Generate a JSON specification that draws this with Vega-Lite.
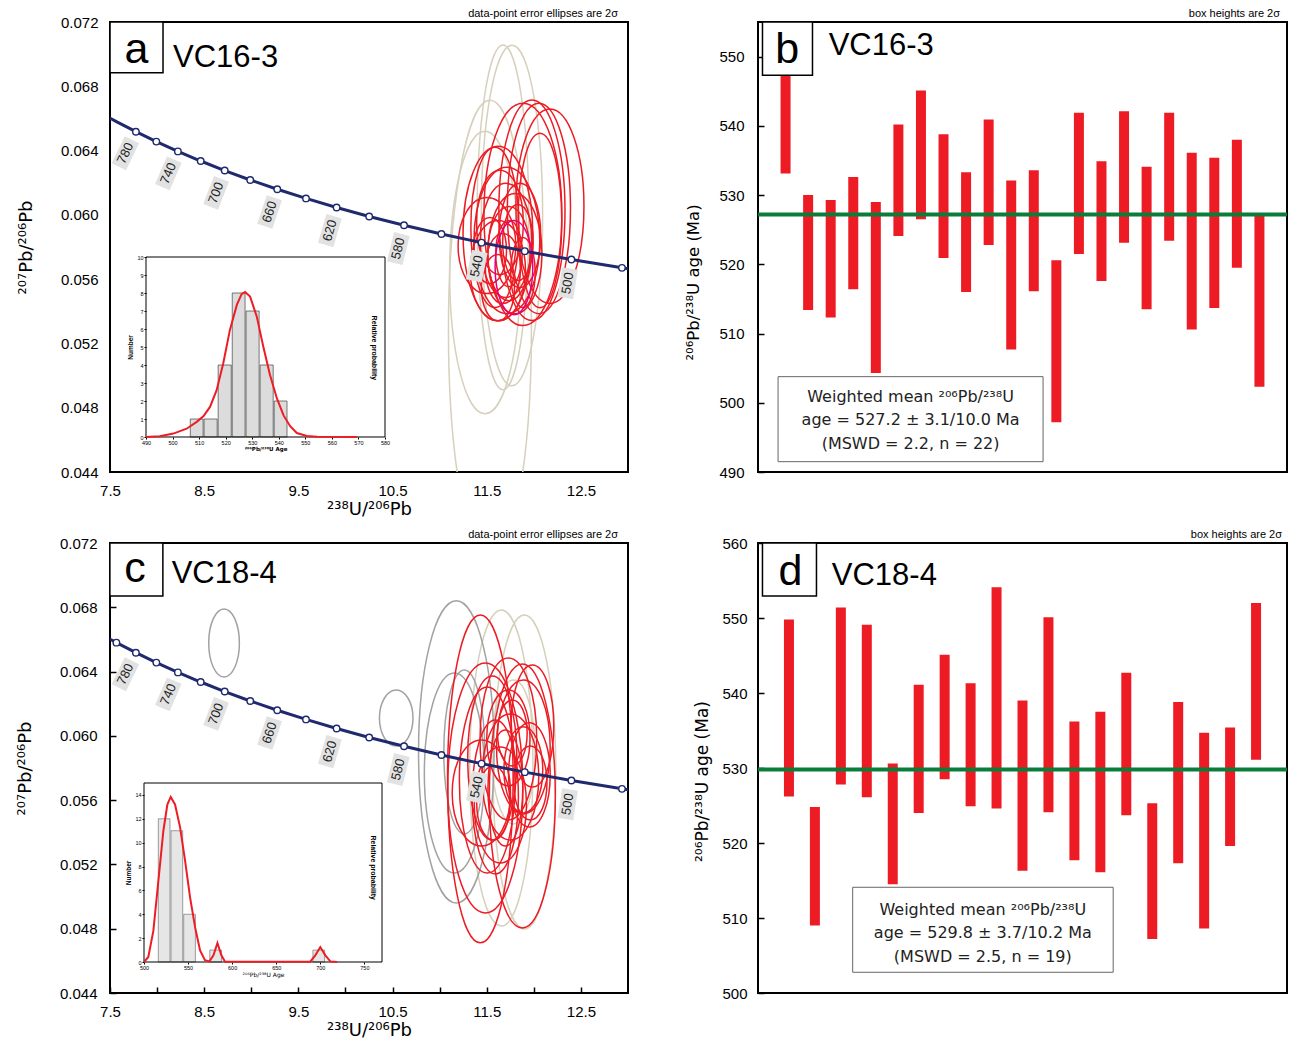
{
"$schema": "https://vega.github.io/schema/vega-lite/v6.json",
"padding": {"left": 15, "top": 7, "right": 5, "bottom": 0},
"bounds": "flush",
"columns": 2,
"spacing": {"row": 71, "column": 130},
"config": {
  "font": "Liberation Sans",
  "view": {"stroke": "black", "strokeWidth": 2},
  "axis": {"grid": false, "domain": false, "labelColor": "#000", "titleColor": "#000", "titleFontWeight": "normal", "tickColor": "#000", "labelFont": "Liberation Sans", "titleFont": "DejaVu Sans", "labelFlush": false, "labelOverlap": false},
  "title": {"font": "Liberation Sans", "fontWeight": "normal", "fontSize": 11, "anchor": "end", "frame": "group", "offset": -4, "color": "#000"},
  "text": {"font": "Liberation Sans", "color": "#000"}
},
"datasets": {
  "concordia": [
    {"age": 460, "u": 13.520, "pb": 0.056193},
    {"age": 480, "u": 12.936, "pb": 0.056703},
    {"age": 500, "u": 12.399, "pb": 0.057219},
    {"age": 520, "u": 11.904, "pb": 0.057742},
    {"age": 540, "u": 11.445, "pb": 0.058272},
    {"age": 560, "u": 11.019, "pb": 0.058809},
    {"age": 580, "u": 10.622, "pb": 0.059351},
    {"age": 600, "u": 10.252, "pb": 0.059901},
    {"age": 620, "u": 9.906, "pb": 0.060458},
    {"age": 640, "u": 9.581, "pb": 0.061022},
    {"age": 660, "u": 9.276, "pb": 0.061593},
    {"age": 680, "u": 8.989, "pb": 0.062171},
    {"age": 700, "u": 8.718, "pb": 0.062757},
    {"age": 720, "u": 8.463, "pb": 0.063350},
    {"age": 740, "u": 8.221, "pb": 0.063950},
    {"age": 760, "u": 7.992, "pb": 0.064559},
    {"age": 780, "u": 7.775, "pb": 0.065175},
    {"age": 800, "u": 7.568, "pb": 0.065800},
    {"age": 820, "u": 7.372, "pb": 0.066432}
  ],
  "ellA": [
    {"x": 11.672, "y": 0.05984, "sy": 0.01073, "form": "0.15", "kind": "rejected"},
    {"x": 11.768, "y": 0.05996, "sy": 0.0106, "form": "0.18", "kind": "rejected"},
    {"x": 11.534, "y": 0.05279, "sy": 0.01434, "form": "0.18", "kind": "rejected"},
    {"x": 11.481, "y": 0.05641, "sy": 0.00879, "form": "0.25", "kind": "rejected"},
    {"x": 12.171, "y": 0.06053, "sy": 0.00605, "form": "0.35", "kind": "concordant"},
    {"x": 12.054, "y": 0.0604, "sy": 0.00655, "form": "0.3", "kind": "concordant"},
    {"x": 11.98, "y": 0.06028, "sy": 0.00686, "form": "0.3", "kind": "concordant"},
    {"x": 11.884, "y": 0.06003, "sy": 0.00692, "form": "0.35", "kind": "concordant"},
    {"x": 12.065, "y": 0.05965, "sy": 0.00543, "form": "0.25", "kind": "concordant"},
    {"x": 11.587, "y": 0.05922, "sy": 0.00499, "form": "0.3", "kind": "concordant"},
    {"x": 11.502, "y": 0.05809, "sy": 0.00299, "form": "0.6", "kind": "concordant"},
    {"x": 11.714, "y": 0.05841, "sy": 0.00455, "form": "0.45", "kind": "concordant"},
    {"x": 11.704, "y": 0.05841, "sy": 0.00355, "form": "0.45", "kind": "concordant"},
    {"x": 11.799, "y": 0.05759, "sy": 0.00374, "form": "0.45", "kind": "concordant"},
    {"x": 11.619, "y": 0.05653, "sy": 0.00312, "form": "0.55", "kind": "concordant"},
    {"x": 11.736, "y": 0.05759, "sy": 0.00293, "form": "0.45", "kind": "concordant"},
    {"x": 11.736, "y": 0.05759, "sy": 0.00206, "form": "0.4", "kind": "concordant"},
    {"x": 11.64, "y": 0.05953, "sy": 0.00324, "form": "0.45", "kind": "concordant"},
    {"x": 11.852, "y": 0.05872, "sy": 0.00324, "form": "0.4", "kind": "concordant"},
    {"x": 11.672, "y": 0.05666, "sy": 0.00218, "form": "0.5", "kind": "concordant"},
    {"x": 11.831, "y": 0.05828, "sy": 0.00237, "form": "0.4", "kind": "concordant"},
    {"x": 11.619, "y": 0.05547, "sy": 0.00206, "form": "0.5", "kind": "concordant"},
    {"x": 11.884, "y": 0.05641, "sy": 0.00218, "form": "0.35", "kind": "concordant"},
    {"x": 11.534, "y": 0.05778, "sy": 0.00206, "form": "0.5", "kind": "concordant"},
    {"x": 11.619, "y": 0.05884, "sy": 0.00543, "form": "0.4", "kind": "concordant"},
    {"x": 11.789, "y": 0.05672, "sy": 0.00293, "form": "0.4", "kind": "highlight"}
  ],
  "ellC": [
    {"x": 11.655, "y": 0.058, "sy": 0.00983, "form": "0.2", "kind": "rejected"},
    {"x": 11.9, "y": 0.05775, "sy": 0.00977, "form": "0.2", "kind": "rejected"},
    {"x": 11.783, "y": 0.059, "sy": 0.00448, "form": "0.3", "kind": "rejected"},
    {"x": 8.711, "y": 0.06578, "sy": 0.00212, "form": "0.45", "kind": "inherited"},
    {"x": 10.539, "y": 0.06111, "sy": 0.00174, "form": "0.6", "kind": "inherited"},
    {"x": 11.177, "y": 0.059, "sy": 0.0094, "form": "0.25", "kind": "inherited"},
    {"x": 11.156, "y": 0.05769, "sy": 0.00622, "form": "0.3", "kind": "inherited"},
    {"x": 11.262, "y": 0.059, "sy": 0.0051, "form": "0.25", "kind": "inherited"},
    {"x": 11.432, "y": 0.05732, "sy": 0.0102, "form": "0.2", "kind": "concordant"},
    {"x": 11.485, "y": 0.05676, "sy": 0.00778, "form": "0.3", "kind": "concordant"},
    {"x": 11.878, "y": 0.05626, "sy": 0.00821, "form": "0.25", "kind": "concordant"},
    {"x": 11.506, "y": 0.05725, "sy": 0.00579, "form": "0.3", "kind": "concordant"},
    {"x": 11.559, "y": 0.05862, "sy": 0.0051, "form": "0.3", "kind": "concordant"},
    {"x": 11.73, "y": 0.05981, "sy": 0.00504, "form": "0.35", "kind": "concordant"},
    {"x": 11.889, "y": 0.05931, "sy": 0.00417, "form": "0.4", "kind": "concordant"},
    {"x": 11.985, "y": 0.06061, "sy": 0.0038, "form": "0.35", "kind": "concordant"},
    {"x": 11.591, "y": 0.0562, "sy": 0.00479, "form": "0.3", "kind": "concordant"},
    {"x": 11.751, "y": 0.05744, "sy": 0.00392, "form": "0.45", "kind": "concordant"},
    {"x": 11.645, "y": 0.0557, "sy": 0.00361, "form": "0.45", "kind": "concordant"},
    {"x": 11.889, "y": 0.05788, "sy": 0.00268, "form": "0.45", "kind": "concordant"},
    {"x": 11.73, "y": 0.05987, "sy": 0.00299, "form": "0.45", "kind": "concordant"},
    {"x": 11.953, "y": 0.05757, "sy": 0.00324, "form": "0.4", "kind": "concordant"},
    {"x": 11.698, "y": 0.05676, "sy": 0.00361, "form": "0.3", "kind": "concordant"},
    {"x": 11.443, "y": 0.05645, "sy": 0.0033, "form": "0.55", "kind": "concordant"},
    {"x": 11.57, "y": 0.05582, "sy": 0.0023, "form": "0.45", "kind": "concordant"},
    {"x": 11.963, "y": 0.05707, "sy": 0.0023, "form": "0.45", "kind": "concordant"},
    {"x": 11.772, "y": 0.06018, "sy": 0.00205, "form": "0.45", "kind": "concordant"}
  ],
  "histA": [
    {"b0": 506.3, "b1": 511.5, "n": 1},
    {"b0": 511.5, "b1": 516.8, "n": 1},
    {"b0": 516.8, "b1": 522.1, "n": 4},
    {"b0": 522.1, "b1": 527.3, "n": 8},
    {"b0": 527.3, "b1": 532.6, "n": 7},
    {"b0": 532.6, "b1": 537.9, "n": 4},
    {"b0": 537.9, "b1": 543.1, "n": 2}
  ],
  "pdfA": [
    {"age": 490, "p": 0}, {"age": 495.2, "p": 0.04}, {"age": 500.3, "p": 0.19}, {"age": 505.3, "p": 0.46},
    {"age": 509.1, "p": 0.84}, {"age": 511.6, "p": 1.15}, {"age": 514.1, "p": 1.67}, {"age": 516.6, "p": 2.6},
    {"age": 519.1, "p": 4.1}, {"age": 521.6, "p": 5.95}, {"age": 524.2, "p": 7.34}, {"age": 526.0, "p": 7.94},
    {"age": 527.3, "p": 8.05}, {"age": 529.2, "p": 7.8}, {"age": 531.7, "p": 6.7}, {"age": 534.2, "p": 5.0},
    {"age": 536.7, "p": 3.44}, {"age": 539.3, "p": 2.14}, {"age": 541.8, "p": 1.2}, {"age": 544.3, "p": 0.6},
    {"age": 546.8, "p": 0.22}, {"age": 550.6, "p": 0.06}, {"age": 554.4, "p": 0.01}, {"age": 569.4, "p": 0}
  ],
  "histC": [
    {"b0": 515.1, "b1": 529.5, "n": 12},
    {"b0": 529.5, "b1": 543.9, "n": 11},
    {"b0": 543.9, "b1": 558.3, "n": 4},
    {"b0": 573.5, "b1": 587.9, "n": 1},
    {"b0": 690.5, "b1": 704.9, "n": 1}
  ],
  "pdfC": [
    {"age": 500, "p": 0}, {"age": 504.9, "p": 0.42}, {"age": 510.6, "p": 2.6}, {"age": 516.3, "p": 6.8},
    {"age": 522, "p": 11.0}, {"age": 526.5, "p": 13.2}, {"age": 530.3, "p": 13.83}, {"age": 535.2, "p": 13.2},
    {"age": 540.9, "p": 11.3}, {"age": 546.6, "p": 8.5}, {"age": 552.3, "p": 5.4}, {"age": 558, "p": 2.9},
    {"age": 563.6, "p": 0.97}, {"age": 569.3, "p": 0.14}, {"age": 574.2, "p": 0.05}, {"age": 578.8, "p": 0.56},
    {"age": 583.3, "p": 1.59}, {"age": 587.8, "p": 0.56}, {"age": 592, "p": 0.03}, {"age": 688.6, "p": 0.03},
    {"age": 694.3, "p": 0.56}, {"age": 700, "p": 1.25}, {"age": 705.7, "p": 0.56}, {"age": 711.4, "p": 0.05},
    {"age": 719, "p": 0}
  ],
  "barsB": [
    {"i": 1, "lo": 533.1, "hi": 557}, {"i": 2, "lo": 513.4, "hi": 530.0}, {"i": 3, "lo": 512.3, "hi": 529.3},
    {"i": 4, "lo": 516.4, "hi": 532.6}, {"i": 5, "lo": 504.3, "hi": 529.0}, {"i": 6, "lo": 524.1, "hi": 540.2},
    {"i": 7, "lo": 526.5, "hi": 545.1}, {"i": 8, "lo": 520.9, "hi": 538.8}, {"i": 9, "lo": 516.0, "hi": 533.3},
    {"i": 10, "lo": 522.8, "hi": 540.9}, {"i": 11, "lo": 507.7, "hi": 532.1}, {"i": 12, "lo": 516.1, "hi": 533.6},
    {"i": 13, "lo": 497.2, "hi": 520.6}, {"i": 14, "lo": 521.5, "hi": 541.9}, {"i": 15, "lo": 517.6, "hi": 534.9},
    {"i": 16, "lo": 523.1, "hi": 542.1}, {"i": 17, "lo": 513.5, "hi": 534.1}, {"i": 18, "lo": 523.4, "hi": 541.9},
    {"i": 19, "lo": 510.6, "hi": 536.1}, {"i": 20, "lo": 513.7, "hi": 535.4}, {"i": 21, "lo": 519.5, "hi": 538.0},
    {"i": 22, "lo": 502.3, "hi": 527.0}
  ],
  "barsD": [
    {"i": 1, "lo": 526.2, "hi": 549.8}, {"i": 2, "lo": 509.0, "hi": 524.8}, {"i": 3, "lo": 527.8, "hi": 551.4},
    {"i": 4, "lo": 526.1, "hi": 549.1}, {"i": 5, "lo": 514.5, "hi": 530.6}, {"i": 6, "lo": 524.0, "hi": 541.1},
    {"i": 7, "lo": 528.5, "hi": 545.1}, {"i": 8, "lo": 524.9, "hi": 541.3}, {"i": 9, "lo": 524.6, "hi": 554.1},
    {"i": 10, "lo": 516.3, "hi": 539.0}, {"i": 11, "lo": 524.1, "hi": 550.1}, {"i": 12, "lo": 517.7, "hi": 536.2},
    {"i": 13, "lo": 516.1, "hi": 537.5}, {"i": 14, "lo": 523.7, "hi": 542.7}, {"i": 15, "lo": 507.2, "hi": 525.3},
    {"i": 16, "lo": 517.3, "hi": 538.8}, {"i": 17, "lo": 508.6, "hi": 534.7}, {"i": 18, "lo": 519.6, "hi": 535.4},
    {"i": 19, "lo": 531.1, "hi": 552.0}
  ]
},
"concat": [
  {
    "width": 518, "height": 450,
    "title": {"text": "data-point error ellipses are 2σ", "dx": -10},
    "layer": [
      {
        "layer": [
          {
            "data": {"name": "ellA"},
            "mark": {"type": "point", "filled": false, "strokeWidth": 1.5, "opacity": 1, "clip": true},
            "encoding": {
              "x": {"field": "x", "type": "quantitative", "scale": {"domain": [7.5, 13], "nice": false, "zero": false},
                    "axis": {"values": [7.5, 8.5, 9.5, 10.5, 11.5, 12.5], "format": ".1f", "ticks": false, "labelFontSize": 15, "labelPadding": 11, "title": "²³⁸U/²⁰⁶Pb", "titleFontSize": 18, "titlePadding": 2}},
              "y": {"field": "y", "type": "quantitative", "scale": {"domain": [0.044, 0.072], "nice": false, "zero": false},
                    "axis": {"values": [0.044, 0.048, 0.052, 0.056, 0.06, 0.064, 0.068, 0.072], "format": ".3f", "ticks": false, "labelFontSize": 15, "labelPadding": 12, "title": "²⁰⁷Pb/²⁰⁶Pb", "titleFontSize": 18, "titlePadding": 25}},
              "size": {"field": "sy", "type": "quantitative", "scale": {"type": "pow", "exponent": 2, "domain": [0, 0.02], "range": [0, 413243]}, "legend": null},
              "shape": {"field": "form", "type": "nominal", "legend": null, "scale": {
                "domain": ["0.15", "0.18", "0.2", "0.25", "0.3", "0.35", "0.4", "0.45", "0.5", "0.55", "0.6"],
                "range": [
                  "M0,-1C0.0828,-1,0.15,-0.5523,0.15,0C0.15,0.5523,0.0828,1,0,1C-0.0828,1,-0.15,0.5523,-0.15,0C-0.15,-0.5523,-0.0828,-1,0,-1Z",
                  "M0,-1C0.0994,-1,0.18,-0.5523,0.18,0C0.18,0.5523,0.0994,1,0,1C-0.0994,1,-0.18,0.5523,-0.18,0C-0.18,-0.5523,-0.0994,-1,0,-1Z",
                  "M0,-1C0.1105,-1,0.2,-0.5523,0.2,0C0.2,0.5523,0.1105,1,0,1C-0.1105,1,-0.2,0.5523,-0.2,0C-0.2,-0.5523,-0.1105,-1,0,-1Z",
                  "M0,-1C0.1381,-1,0.25,-0.5523,0.25,0C0.25,0.5523,0.1381,1,0,1C-0.1381,1,-0.25,0.5523,-0.25,0C-0.25,-0.5523,-0.1381,-1,0,-1Z",
                  "M0,-1C0.1657,-1,0.3,-0.5523,0.3,0C0.3,0.5523,0.1657,1,0,1C-0.1657,1,-0.3,0.5523,-0.3,0C-0.3,-0.5523,-0.1657,-1,0,-1Z",
                  "M0,-1C0.1933,-1,0.35,-0.5523,0.35,0C0.35,0.5523,0.1933,1,0,1C-0.1933,1,-0.35,0.5523,-0.35,0C-0.35,-0.5523,-0.1933,-1,0,-1Z",
                  "M0,-1C0.2209,-1,0.4,-0.5523,0.4,0C0.4,0.5523,0.2209,1,0,1C-0.2209,1,-0.4,0.5523,-0.4,0C-0.4,-0.5523,-0.2209,-1,0,-1Z",
                  "M0,-1C0.2485,-1,0.45,-0.5523,0.45,0C0.45,0.5523,0.2485,1,0,1C-0.2485,1,-0.45,0.5523,-0.45,0C-0.45,-0.5523,-0.2485,-1,0,-1Z",
                  "M0,-1C0.2762,-1,0.5,-0.5523,0.5,0C0.5,0.5523,0.2762,1,0,1C-0.2762,1,-0.5,0.5523,-0.5,0C-0.5,-0.5523,-0.2762,-1,0,-1Z",
                  "M0,-1C0.3038,-1,0.55,-0.5523,0.55,0C0.55,0.5523,0.3038,1,0,1C-0.3038,1,-0.55,0.5523,-0.55,0C-0.55,-0.5523,-0.3038,-1,0,-1Z",
                  "M0,-1C0.3314,-1,0.6,-0.5523,0.6,0C0.6,0.5523,0.3314,1,0,1C-0.3314,1,-0.6,0.5523,-0.6,0C-0.6,-0.5523,-0.3314,-1,0,-1Z"
                ]}},
              "stroke": {"field": "kind", "type": "nominal", "legend": null, "scale": {"domain": ["concordant", "rejected", "inherited", "highlight"], "range": ["#ed1c24", "#d6d0bd", "#a2a2a2", "#e4007c"]}}
            }
          },
          {
            "data": {"name": "concordia"},
            "mark": {"type": "line", "color": "#1f2a6e", "strokeWidth": 3, "clip": true},
            "encoding": {"x": {"field": "u", "type": "quantitative"}, "y": {"field": "pb", "type": "quantitative"}, "order": {"field": "age", "type": "quantitative"}}
          },
          {
            "data": {"name": "concordia"},
            "transform": [{"filter": "datum.age >= 480 && datum.age <= 780"}],
            "mark": {"type": "point", "filled": true, "fill": "white", "stroke": "#1f2a6e", "strokeWidth": 1.4, "size": 42, "opacity": 1},
            "encoding": {"x": {"field": "u", "type": "quantitative"}, "y": {"field": "pb", "type": "quantitative"}}
          },
          {
            "data": {"name": "concordia"},
            "transform": [{"filter": "datum.age >= 500 && datum.age <= 780 && datum.age % 40 == 20"}],
            "mark": {"type": "point", "filled": true, "fill": "#e2e2e2", "strokeWidth": 0, "size": 10000, "opacity": 1, "shape": "M-0.78,-0.16L-0.18,-0.16L-0.18,0.16L-0.78,0.16Z"},
            "encoding": {"x": {"field": "u", "type": "quantitative"}, "y": {"field": "pb", "type": "quantitative"},
                         "angle": {"field": "age", "type": "quantitative", "scale": {"domain": [500, 780], "range": [-81, -64]}}}
          },
          {
            "data": {"name": "concordia"},
            "transform": [{"filter": "datum.age >= 500 && datum.age <= 780 && datum.age % 40 == 20"}],
            "mark": {"type": "text", "fontSize": 13, "dx": -24, "align": "center", "baseline": "middle", "color": "#222"},
            "encoding": {"x": {"field": "u", "type": "quantitative"}, "y": {"field": "pb", "type": "quantitative"},
                         "angle": {"field": "age", "type": "quantitative", "scale": {"domain": [500, 780], "range": [-81, -64]}},
                         "text": {"field": "age", "type": "quantitative", "format": "d"}}
          },
          {
            "data": {"values": [{}]},
            "mark": {"type": "point", "filled": true, "fill": "white", "stroke": "black", "strokeWidth": 1.5, "opacity": 1, "size": 2809, "shape": "M-1,-0.9566L1,-0.9566L1,0.9566L-1,0.9566Z"},
            "encoding": {"x": {"datum": 7.7815}, "y": {"datum": 0.070425}}
          },
          {
            "data": {"values": [{}]},
            "mark": {"type": "text", "text": "a", "fontSize": 43, "align": "center", "baseline": "alphabetic"},
            "encoding": {"x": {"datum": 7.781}, "y": {"datum": 0.06945}}
          },
          {
            "data": {"values": [{}]},
            "mark": {"type": "text", "text": "VC16-3", "fontSize": 31, "align": "left", "baseline": "alphabetic"},
            "encoding": {"x": {"datum": 8.169}, "y": {"datum": 0.06922}}
          }
        ]
      },
      {
        "layer": [
          {
            "data": {"name": "histA"},
            "mark": {"type": "bar", "fill": "#dcdcdc", "stroke": "#444", "strokeWidth": 0.7},
            "encoding": {
              "x": {"field": "b0", "bin": "binned", "type": "quantitative", "scale": {"domain": [490, 580], "range": [36, 275], "nice": false, "zero": false},
                    "axis": {"orient": "bottom", "offset": -35, "values": [490, 500, 510, 520, 530, 540, 550, 560, 570, 580], "labelOverlap": false, "labelFontSize": 5.5, "tickSize": 2, "labelPadding": 1, "title": "²⁰⁶Pb/²³⁸U Age", "titleFontSize": 5.5, "titleFontWeight": "bold", "titlePadding": 1}},
              "x2": {"field": "b1"},
              "y": {"field": "n", "type": "quantitative", "scale": {"domain": [0, 10], "range": [415, 235], "nice": false, "zero": false},
                    "axis": {"orient": "left", "offset": -36, "values": [0, 1, 2, 3, 4, 5, 6, 7, 8, 9, 10], "labelFontSize": 5.5, "tickSize": 2, "labelPadding": 1, "title": "Number", "titleFont": "Liberation Sans", "titleFontSize": 6.5, "titleFontWeight": "bold", "titlePadding": 3}}
            }
          },
          {
            "data": {"values": [{}]},
            "mark": {"type": "point", "filled": false, "fill": null, "stroke": "black", "strokeWidth": 1, "opacity": 1, "size": 57121, "shape": "M-1,-0.7531L1,-0.7531L1,0.7531L-1,0.7531Z"},
            "encoding": {"x": {"datum": 535}, "y": {"datum": 5}}
          },
          {
            "data": {"name": "pdfA"},
            "mark": {"type": "line", "color": "#ee1c25", "strokeWidth": 2},
            "encoding": {"x": {"field": "age", "type": "quantitative"}, "y": {"field": "p", "type": "quantitative"}}
          },
          {
            "data": {"values": [{}]},
            "mark": {"type": "text", "text": "Relative probability", "angle": 90, "fontSize": 7, "fontWeight": "bold", "align": "center", "baseline": "middle"},
            "encoding": {"x": {"datum": 576}, "y": {"datum": 4.95}}
          }
        ]
      }
    ],
    "resolve": {"scale": {"x": "independent", "y": "independent"}}
  },
  {
    "width": 529, "height": 450,
    "title": {"text": "box heights are 2σ", "dx": -7, "offset": 0},
    "layer": [
      {
        "data": {"name": "barsB"},
        "mark": {"type": "bar", "color": "#ed1c24", "size": 10, "clip": true},
        "encoding": {
          "x": {"field": "i", "type": "quantitative", "scale": {"domain": [0, 23], "nice": false, "zero": false}, "axis": null},
          "y": {"field": "lo", "type": "quantitative", "scale": {"domain": [490, 555], "nice": false, "zero": false},
                "axis": {"values": [490, 495, 500, 505, 510, 515, 520, 525, 530, 535, 540, 545, 550, 555], "labelExpr": "datum.value % 10 == 0 ? datum.label : ''", "tickSize": -6, "tickWidth": 1.5, "labelFontSize": 15, "labelPadding": 20, "title": "²⁰⁶Pb/²³⁸U age (Ma)", "titleFontSize": 16.5, "titlePadding": 17, "titleY": 260}},
          "y2": {"field": "hi"}
        }
      },
      {
        "data": {"values": [{}]},
        "mark": {"type": "rule", "color": "#0b7d3b", "strokeWidth": 4},
        "encoding": {"y": {"datum": 527.2}}
      },
      {
        "data": {"values": [{}]},
        "mark": {"type": "point", "filled": true, "fill": "white", "stroke": "#666", "strokeWidth": 1, "opacity": 1, "size": 70225, "shape": "M-1,-0.3208L1,-0.3208L1,0.3208L-1,0.3208Z"},
        "encoding": {"x": {"datum": 6.54}, "y": {"datum": 497.63}}
      },
      {
        "data": {"values": [{}]},
        "mark": {"type": "text", "text": ["Weighted mean ²⁰⁶Pb/²³⁸U", "age = 527.2 ± 3.1/10.0 Ma", "(MSWD = 2.2, n = 22)"], "font": "DejaVu Sans", "fontSize": 16, "lineHeight": 23.5, "align": "center", "baseline": "alphabetic", "color": "#222"},
        "encoding": {"x": {"datum": 6.54}, "y": {"datum": 500.15}}
      },
      {
        "data": {"values": [{}]},
        "mark": {"type": "point", "filled": true, "fill": "white", "stroke": "black", "strokeWidth": 1.5, "opacity": 1, "size": 2841, "shape": "M-0.938,-1L0.938,-1L0.938,1L-0.938,1Z"},
        "encoding": {"x": {"datum": 1.085}, "y": {"datum": 551.15}}
      },
      {
        "data": {"values": [{}]},
        "mark": {"type": "text", "text": "b", "fontSize": 43, "align": "center", "baseline": "alphabetic"},
        "encoding": {"x": {"datum": 1.07}, "y": {"datum": 549.03}}
      },
      {
        "data": {"values": [{}]},
        "mark": {"type": "text", "text": "VC16-3", "fontSize": 31, "align": "left", "baseline": "alphabetic"},
        "encoding": {"x": {"datum": 2.91}, "y": {"datum": 550.23}}
      }
    ]
  },
  {
    "width": 518, "height": 450,
    "title": {"text": "data-point error ellipses are 2σ", "dx": -10},
    "layer": [
      {
        "layer": [
          {
            "data": {"name": "ellC"},
            "mark": {"type": "point", "filled": false, "strokeWidth": 1.5, "opacity": 1, "clip": true},
            "encoding": {
              "x": {"field": "x", "type": "quantitative", "scale": {"domain": [7.5, 13], "nice": false, "zero": false},
                    "axis": {"values": [7.5, 8, 8.5, 9, 9.5, 10, 10.5, 11, 11.5, 12, 12.5], "labelExpr": "(datum.value * 2) % 2 == 1 ? format(datum.value, '.1f') : ''", "tickSize": -6, "tickWidth": 1.5, "labelFontSize": 15, "labelPadding": 17, "title": "²³⁸U/²⁰⁶Pb", "titleFontSize": 18, "titlePadding": 2}},
              "y": {"field": "y", "type": "quantitative", "scale": {"domain": [0.044, 0.072], "nice": false, "zero": false},
                    "axis": {"values": [0.044, 0.046, 0.048, 0.05, 0.052, 0.054, 0.056, 0.058, 0.06, 0.062, 0.064, 0.066, 0.068, 0.07, 0.072], "labelExpr": "round(datum.value * 1000) % 4 == 0 ? format(datum.value, '.3f') : ''", "tickSize": -6, "tickWidth": 1.5, "labelFontSize": 15, "labelPadding": 19, "title": "²⁰⁷Pb/²⁰⁶Pb", "titleFontSize": 18, "titlePadding": 25}},
              "size": {"field": "sy", "type": "quantitative", "scale": {"type": "pow", "exponent": 2, "domain": [0, 0.02], "range": [0, 413243]}, "legend": null},
              "shape": {"field": "form", "type": "nominal", "legend": null, "scale": {
                "domain": ["0.15", "0.18", "0.2", "0.25", "0.3", "0.35", "0.4", "0.45", "0.5", "0.55", "0.6"],
                "range": [
                  "M0,-1C0.0828,-1,0.15,-0.5523,0.15,0C0.15,0.5523,0.0828,1,0,1C-0.0828,1,-0.15,0.5523,-0.15,0C-0.15,-0.5523,-0.0828,-1,0,-1Z",
                  "M0,-1C0.0994,-1,0.18,-0.5523,0.18,0C0.18,0.5523,0.0994,1,0,1C-0.0994,1,-0.18,0.5523,-0.18,0C-0.18,-0.5523,-0.0994,-1,0,-1Z",
                  "M0,-1C0.1105,-1,0.2,-0.5523,0.2,0C0.2,0.5523,0.1105,1,0,1C-0.1105,1,-0.2,0.5523,-0.2,0C-0.2,-0.5523,-0.1105,-1,0,-1Z",
                  "M0,-1C0.1381,-1,0.25,-0.5523,0.25,0C0.25,0.5523,0.1381,1,0,1C-0.1381,1,-0.25,0.5523,-0.25,0C-0.25,-0.5523,-0.1381,-1,0,-1Z",
                  "M0,-1C0.1657,-1,0.3,-0.5523,0.3,0C0.3,0.5523,0.1657,1,0,1C-0.1657,1,-0.3,0.5523,-0.3,0C-0.3,-0.5523,-0.1657,-1,0,-1Z",
                  "M0,-1C0.1933,-1,0.35,-0.5523,0.35,0C0.35,0.5523,0.1933,1,0,1C-0.1933,1,-0.35,0.5523,-0.35,0C-0.35,-0.5523,-0.1933,-1,0,-1Z",
                  "M0,-1C0.2209,-1,0.4,-0.5523,0.4,0C0.4,0.5523,0.2209,1,0,1C-0.2209,1,-0.4,0.5523,-0.4,0C-0.4,-0.5523,-0.2209,-1,0,-1Z",
                  "M0,-1C0.2485,-1,0.45,-0.5523,0.45,0C0.45,0.5523,0.2485,1,0,1C-0.2485,1,-0.45,0.5523,-0.45,0C-0.45,-0.5523,-0.2485,-1,0,-1Z",
                  "M0,-1C0.2762,-1,0.5,-0.5523,0.5,0C0.5,0.5523,0.2762,1,0,1C-0.2762,1,-0.5,0.5523,-0.5,0C-0.5,-0.5523,-0.2762,-1,0,-1Z",
                  "M0,-1C0.3038,-1,0.55,-0.5523,0.55,0C0.55,0.5523,0.3038,1,0,1C-0.3038,1,-0.55,0.5523,-0.55,0C-0.55,-0.5523,-0.3038,-1,0,-1Z",
                  "M0,-1C0.3314,-1,0.6,-0.5523,0.6,0C0.6,0.5523,0.3314,1,0,1C-0.3314,1,-0.6,0.5523,-0.6,0C-0.6,-0.5523,-0.3314,-1,0,-1Z"
                ]}},
              "stroke": {"field": "kind", "type": "nominal", "legend": null, "scale": {"domain": ["concordant", "rejected", "inherited", "highlight"], "range": ["#ed1c24", "#d6d0bd", "#a2a2a2", "#e4007c"]}}
            }
          },
          {
            "data": {"name": "concordia"},
            "mark": {"type": "line", "color": "#1f2a6e", "strokeWidth": 3, "clip": true},
            "encoding": {"x": {"field": "u", "type": "quantitative"}, "y": {"field": "pb", "type": "quantitative"}, "order": {"field": "age", "type": "quantitative"}}
          },
          {
            "data": {"name": "concordia"},
            "transform": [{"filter": "datum.age >= 480 && datum.age <= 800"}],
            "mark": {"type": "point", "filled": true, "fill": "white", "stroke": "#1f2a6e", "strokeWidth": 1.4, "size": 42, "opacity": 1},
            "encoding": {"x": {"field": "u", "type": "quantitative"}, "y": {"field": "pb", "type": "quantitative"}}
          },
          {
            "data": {"name": "concordia"},
            "transform": [{"filter": "datum.age >= 500 && datum.age <= 780 && datum.age % 40 == 20"}],
            "mark": {"type": "point", "filled": true, "fill": "#e2e2e2", "strokeWidth": 0, "size": 10000, "opacity": 1, "shape": "M-0.78,-0.16L-0.18,-0.16L-0.18,0.16L-0.78,0.16Z"},
            "encoding": {"x": {"field": "u", "type": "quantitative"}, "y": {"field": "pb", "type": "quantitative"},
                         "angle": {"field": "age", "type": "quantitative", "scale": {"domain": [500, 780], "range": [-81, -64]}}}
          },
          {
            "data": {"name": "concordia"},
            "transform": [{"filter": "datum.age >= 500 && datum.age <= 780 && datum.age % 40 == 20"}],
            "mark": {"type": "text", "fontSize": 13, "dx": -24, "align": "center", "baseline": "middle", "color": "#222"},
            "encoding": {"x": {"field": "u", "type": "quantitative"}, "y": {"field": "pb", "type": "quantitative"},
                         "angle": {"field": "age", "type": "quantitative", "scale": {"domain": [500, 780], "range": [-81, -64]}},
                         "text": {"field": "age", "type": "quantitative", "format": "d"}}
          },
          {
            "data": {"values": [{}]},
            "mark": {"type": "point", "filled": true, "fill": "white", "stroke": "black", "strokeWidth": 1.5, "opacity": 1, "size": 2809, "shape": "M-1,-1L1,-1L1,1L-1,1Z"},
            "encoding": {"x": {"datum": 7.78}, "y": {"datum": 0.07035}}
          },
          {
            "data": {"values": [{}]},
            "mark": {"type": "text", "text": "c", "fontSize": 43, "align": "center", "baseline": "alphabetic"},
            "encoding": {"x": {"datum": 7.765}, "y": {"datum": 0.06959}}
          },
          {
            "data": {"values": [{}]},
            "mark": {"type": "text", "text": "VC18-4", "fontSize": 31, "align": "left", "baseline": "alphabetic"},
            "encoding": {"x": {"datum": 8.155}, "y": {"datum": 0.06949}}
          }
        ]
      },
      {
        "layer": [
          {
            "data": {"name": "histC"},
            "mark": {"type": "bar", "fill": "#e6e6e6", "stroke": "#777", "strokeWidth": 0.7},
            "encoding": {
              "x": {"field": "b0", "bin": "binned", "type": "quantitative", "scale": {"domain": [500, 770], "range": [34, 272], "nice": false, "zero": false},
                    "axis": {"orient": "bottom", "offset": -31, "values": [500, 550, 600, 650, 700, 750], "format": "d", "labelOverlap": false, "labelBound": false, "labelFontSize": 5.5, "tickSize": 2, "labelPadding": 1, "title": "²⁰⁶Pb/²³⁸U Age", "titleFontSize": 6, "titleFontWeight": "normal", "titlePadding": 1}},
              "x2": {"field": "b1"},
              "y": {"field": "n", "type": "quantitative", "scale": {"domain": [0, 15], "range": [419, 240], "nice": false, "zero": false},
                    "axis": {"orient": "left", "offset": -34, "values": [0, 2, 4, 6, 8, 10, 12, 14], "labelFontSize": 5.5, "tickSize": 2, "labelPadding": 1, "title": "Number", "titleFont": "Liberation Sans", "titleFontSize": 6.5, "titleFontWeight": "bold", "titlePadding": 3}}
            }
          },
          {
            "data": {"values": [{}]},
            "mark": {"type": "point", "filled": false, "fill": null, "stroke": "black", "strokeWidth": 1, "opacity": 1, "size": 56644, "shape": "M-1,-0.7521L1,-0.7521L1,0.7521L-1,0.7521Z"},
            "encoding": {"x": {"datum": 635}, "y": {"datum": 7.5}}
          },
          {
            "data": {"name": "pdfC"},
            "mark": {"type": "line", "color": "#ee1c25", "strokeWidth": 2},
            "encoding": {"x": {"field": "age", "type": "quantitative"}, "y": {"field": "p", "type": "quantitative"}}
          },
          {
            "data": {"values": [{}]},
            "mark": {"type": "text", "text": "Relative probability", "angle": 90, "fontSize": 7, "fontWeight": "bold", "align": "center", "baseline": "middle"},
            "encoding": {"x": {"datum": 760}, "y": {"datum": 7.9}}
          }
        ]
      }
    ],
    "resolve": {"scale": {"x": "independent", "y": "independent"}}
  },
  {
    "width": 529, "height": 450,
    "title": {"text": "box heights are 2σ", "dx": -5},
    "layer": [
      {
        "data": {"name": "barsD"},
        "mark": {"type": "bar", "color": "#ed1c24", "size": 10, "clip": true},
        "encoding": {
          "x": {"field": "i", "type": "quantitative", "scale": {"domain": [0, 20], "nice": false, "zero": false}, "axis": null},
          "y": {"field": "lo", "type": "quantitative", "scale": {"domain": [500, 560], "nice": false, "zero": false},
                "axis": {"values": [500, 505, 510, 515, 520, 525, 530, 535, 540, 545, 550, 555, 560], "labelExpr": "datum.value % 10 == 0 ? datum.label : ''", "tickSize": -6, "tickWidth": 1.5, "labelFontSize": 15, "labelPadding": 17, "title": "²⁰⁶Pb/²³⁸U age (Ma)", "titleFontSize": 17, "titlePadding": 10, "titleY": 238}},
          "y2": {"field": "hi"}
        }
      },
      {
        "data": {"values": [{}]},
        "mark": {"type": "rule", "color": "#0b7d3b", "strokeWidth": 4},
        "encoding": {"y": {"datum": 529.8}}
      },
      {
        "data": {"values": [{}]},
        "mark": {"type": "point", "filled": true, "fill": "white", "stroke": "#666", "strokeWidth": 1, "opacity": 1, "size": 67860, "shape": "M-1,-0.3263L1,-0.3263L1,0.3263L-1,0.3263Z"},
        "encoding": {"x": {"datum": 8.475}, "y": {"datum": 508.43}}
      },
      {
        "data": {"values": [{}]},
        "mark": {"type": "text", "text": ["Weighted mean ²⁰⁶Pb/²³⁸U", "age = 529.8 ± 3.7/10.2 Ma", "(MSWD = 2.5, n = 19)"], "font": "DejaVu Sans", "fontSize": 16, "lineHeight": 23.4, "align": "center", "baseline": "alphabetic", "color": "#222"},
        "encoding": {"x": {"datum": 8.47}, "y": {"datum": 510.4}}
      },
      {
        "data": {"values": [{}]},
        "mark": {"type": "point", "filled": true, "fill": "white", "stroke": "black", "strokeWidth": 1.5, "opacity": 1, "size": 2916, "shape": "M-1,-0.981L1,-0.981L1,0.981L-1,0.981Z"},
        "encoding": {"x": {"datum": 1.02}, "y": {"datum": 556.47}}
      },
      {
        "data": {"values": [{}]},
        "mark": {"type": "text", "text": "d", "fontSize": 43, "align": "center", "baseline": "alphabetic"},
        "encoding": {"x": {"datum": 1.06}, "y": {"datum": 554.4}}
      },
      {
        "data": {"values": [{}]},
        "mark": {"type": "text", "text": "VC18-4", "fontSize": 31, "align": "left", "baseline": "alphabetic"},
        "encoding": {"x": {"datum": 2.65}, "y": {"datum": 554.4}}
      }
    ]
  }
]
}
